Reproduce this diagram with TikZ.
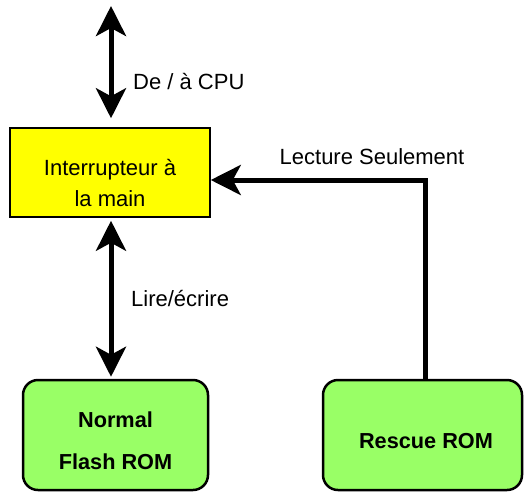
\documentclass[tikz,border=0pt]{standalone}
\usepackage{fontspec}
\setmainfont{Liberation Sans}
\usetikzlibrary{arrows.meta}
\definecolor{boxyellow}{RGB}{255,255,0}
\definecolor{boxgreen}{RGB}{153,255,102}
\begin{document}
\begin{tikzpicture}[x=1pt,y=-1pt,
  txt/.style={font=\fontsize{22}{31}\selectfont, inner sep=0pt, align=center},
  btxt/.style={font=\fontsize{21.7}{42}\selectfont\bfseries, inner sep=0pt, align=center},
  thick arrow/.style={line width=5pt, {Stealth[length=30pt,width=30pt,inset=8pt]}-{Stealth[length=30pt,width=30pt,inset=8pt]}},
  one arrow/.style={line width=5pt, -{Stealth[length=30pt,width=30pt,inset=8pt]}},
  romblock/.style={draw=black, line width=2.5pt, fill=boxgreen, rounded corners=15pt, minimum height=110pt, inner sep=0pt}
]
\useasboundingbox (0,0) rectangle (526,491);
% switch box
\node[draw=black, line width=1.5pt, fill=boxyellow, minimum width=200pt, minimum height=89pt, inner sep=0pt] (sw) at (110,172.5) {};
\node[txt] (swtext) at (110,183) {Interrupteur à\\la main};
% ROM boxes
\node[romblock, minimum width=185pt] (normal) at (115.5,435) {};
\node[btxt] (normaltext) at (115.5,441) {Normal\\Flash ROM};
\node[romblock, minimum width=199pt] (rescue) at (422.5,435) {};
\node[btxt] (rescuetext) at (426,441) {Rescue ROM};
% CPU arrow
\coordinate (cpu) at (111,6);
\draw[thick arrow, shorten >=9pt] (cpu) -- (cpu |- sw.north);
\node[txt, anchor=west] (cpulabel) at (133,82) {De / à CPU};
% read/write arrow
\draw[thick arrow, shorten <=3pt, shorten >=2pt] (sw.south -| cpu) -- (normal.north -| cpu);
\node[txt, anchor=west] (rwlabel) at (131,298) {Lire/écrire};
% read only
\coordinate (bend) at (425,180);
\draw[one arrow] (bend |- rescue.north) -- (bend) -- (bend -| sw.east);
\node[txt] (rolabel) at (372,157) {Lecture Seulement};
\end{tikzpicture}
\end{document}
